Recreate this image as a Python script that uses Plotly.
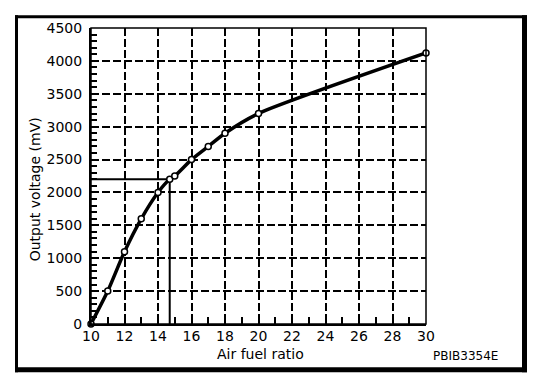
import plotly.graph_objects as go

# ---- data ----
air_fuel_ratio = [10, 11, 12, 13, 14, 14.7, 15, 16, 17, 18, 20, 30]
output_mv = [0, 500, 1100, 1600, 2000, 2200, 2250, 2500, 2700, 2900, 3200, 4120]
stoich_afr = 14.7
stoich_mv = 2200
x_ticks = [10, 12, 14, 16, 18, 20, 22, 24, 26, 28, 30]
y_ticks = [0, 500, 1000, 1500, 2000, 2500, 3000, 3500, 4000, 4500]
code_label = "PBIB3354E"

# ---- layout geometry (page pixels) ----
PAGE_W, PAGE_H = 544, 382
OFF = 8  # default body margin of the html page
L, R, T, B = 91, 426, 23, 324
PW, PH = R - L, B - T


def px(x):
    return (x - L) / PW


def py(y):
    return (B - y) / PH


FONT = "DejaVu Sans"

fig = go.Figure()

# reference line for stoichiometric ratio
fig.add_trace(go.Scatter(
    x=[x_ticks[0], stoich_afr, stoich_afr],
    y=[stoich_mv, stoich_mv, y_ticks[0]],
    mode="lines", line=dict(color="black", width=2),
    hoverinfo="skip", showlegend=False, cliponaxis=False))

# main curve
fig.add_trace(go.Scatter(
    x=air_fuel_ratio, y=output_mv,
    mode="lines+markers",
    line=dict(color="black", width=3.5, shape="spline", smoothing=0.6),
    marker=dict(symbol="circle", size=6, color="white",
                line=dict(color="black", width=1.5)),
    showlegend=False, cliponaxis=False))

axis_common = dict(
    showline=True, linecolor="black", linewidth=2,
    showgrid=True, gridcolor="black", gridwidth=2, griddash="8px,3px",
    ticks="inside", ticklen=6, tickwidth=2, tickcolor="black",
    tickfont=dict(family=FONT, size=14, color="black"),
    zeroline=False, fixedrange=True,
)

fig.update_xaxes(
    range=[x_ticks[0], x_ticks[-1]], tickvals=x_ticks,
    minor=dict(dtick=1, ticks="inside", ticklen=7, tickwidth=2,
               tickcolor="black", showgrid=False),
    ticklabelstandoff=-2,
    **axis_common)
fig.update_yaxes(
    range=[y_ticks[0], y_ticks[-1]], tickvals=y_ticks,
    minor=dict(dtick=100, ticks="inside", ticklen=6, tickwidth=1.5,
               tickcolor="black", showgrid=False),
    ticklabelstandoff=4,
    **axis_common)

shapes = [
    # plot border (thin top/right)
    dict(type="rect", xref="paper", yref="paper", x0=0, x1=1, y0=0, y1=1,
         line=dict(color="black", width=1.5), layer="above"),
    # outer frame
    dict(type="line", xref="paper", yref="paper",
         x0=px(16.5), x1=px(16.5), y0=py(10), y1=py(373),
         line=dict(color="black", width=3)),
    dict(type="line", xref="paper", yref="paper",
         x0=px(15), x1=px(527), y0=py(11.5), y1=py(11.5),
         line=dict(color="black", width=3)),
    dict(type="line", xref="paper", yref="paper",
         x0=px(524.5), x1=px(524.5), y0=py(10), y1=py(373),
         line=dict(color="black", width=5)),
    dict(type="line", xref="paper", yref="paper",
         x0=px(15), x1=px(527), y0=py(370.5), y1=py(370.5),
         line=dict(color="black", width=5)),
]

annotations = [
    dict(text="Air fuel ratio", xref="paper", yref="paper",
         x=px(260), y=py(354), showarrow=False,
         font=dict(family=FONT, size=14, color="black"),
         xanchor="center", yanchor="middle"),
    dict(text="Output voltage (mV)", xref="paper", yref="paper",
         x=px(35), y=py(187), showarrow=False, textangle=-90,
         font=dict(family=FONT, size=14, color="black"),
         xanchor="center", yanchor="middle"),
    dict(text=code_label, xref="paper", yref="paper",
         x=px(465), y=py(357), showarrow=False,
         font=dict(family=FONT, size=12, color="black"),
         xanchor="center", yanchor="middle"),
]

fig.update_layout(
    width=PAGE_W - OFF, height=PAGE_H - OFF, autosize=False,
    margin=dict(l=L - OFF, r=PAGE_W - R, t=T - OFF, b=PAGE_H - B, pad=0),
    paper_bgcolor="white", plot_bgcolor="white",
    shapes=shapes, annotations=annotations,
    showlegend=False,
)

fig.write_html("out.html", config={"displayModeBar": False})
